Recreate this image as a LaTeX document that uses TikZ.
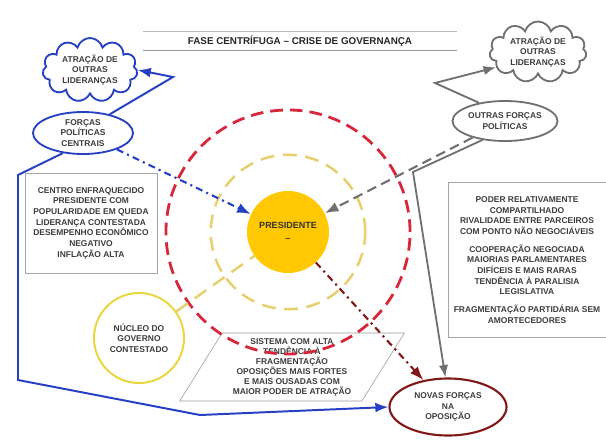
\documentclass[tikz,border=0pt]{standalone}
\usepackage{fontspec}
\setmainfont{Liberation Sans}
\usetikzlibrary{shapes.geometric,shapes.symbols,arrows.meta}
\definecolor{azul}{RGB}{38,64,196}
\definecolor{cinza}{RGB}{112,112,112}
\definecolor{vermelho}{RGB}{214,40,58}
\definecolor{vinho}{RGB}{128,24,24}
\definecolor{ouro}{RGB}{255,200,0}
\definecolor{palha}{RGB}{230,208,112}
\definecolor{amarelo}{RGB}{232,214,60}
\definecolor{texto}{RGB}{60,60,60}

\begin{document}
\begin{tikzpicture}[
                x=0.025cm, y=-0.025cm,
                every node/.style={font=\fontsize{6}{7.6}\selectfont\bfseries, text=texto, align=center, inner sep=0pt},
                titulo/.style={font=\fontsize{7}{8}\selectfont\bfseries, text=black!85, minimum width=7.85cm, minimum height=0.45cm},
                caixa/.style={rectangle, draw=gray!70, thin},
                nuvemAzul/.style={cloud, cloud puffs=11, cloud ignores aspect, draw=azul, line width=1.3pt},
                nuvemCinza/.style={cloud, cloud puffs=11, cloud ignores aspect, draw=cinza, line width=1.3pt},
                elipseAzul/.style={ellipse, draw=azul, line width=1.3pt},
                elipseCinza/.style={ellipse, draw=cinza, line width=1.3pt},
                elipseVinho/.style={ellipse, draw=vinho, line width=1.5pt},
                presid/.style={circle, fill=ouro, minimum size=2.05cm, text=black!80, font=\fontsize{6.4}{9}\selectfont\bfseries},
                nucleoGov/.style={circle, draw=amarelo, line width=1.4pt, minimum size=2.25cm},
                sistemaBox/.style={trapezium, trapezium left angle=58, trapezium right angle=122, draw=gray!80, thin,
                    minimum width=5.5cm, minimum height=1.7cm, font=\fontsize{6}{7.1}\selectfont\bfseries},
                anelVermelho/.style={draw=vermelho, line width=2pt, dash pattern=on 9pt off 5pt},
                anelAmarelo/.style={draw=palha, line width=1.8pt, dash pattern=on 10pt off 6pt},
                ligAzul/.style={draw=azul, line width=1.4pt},
                ligCinza/.style={draw=cinza, line width=1.3pt},
                pontoAzul/.style={draw=azul, line width=1.5pt, dash pattern=on 5pt off 3pt on 1.5pt off 3pt},
                pontoVinho/.style={draw=vinho, line width=1.5pt, dash pattern=on 5pt off 3pt on 1.5pt off 3pt},
                tracoCinza/.style={draw=cinza, line width=1.5pt, dash pattern=on 7pt off 4pt}
                ]
                \useasboundingbox (0,0) rectangle (606,443);

                % titulo
                \node[titulo] (titulo) at (300,41) {FASE CENTRÍFUGA – CRISE DE GOVERNANÇA};
                \draw[gray!55] (titulo.north west) -- (titulo.north east);
                \draw[gray!80] (titulo.south west) -- (titulo.south east);

                % centro
                \node[presid] (presidente) at (288,232) {PRESIDENTE\\–};

                % lado esquerdo
                \node[nuvemAzul, minimum width=2.375cm, minimum height=1.6cm] (atracaoEsq) at (90,70) {ATRAÇÃO DE\\OUTRAS\\LIDERANÇAS};
                \node[elipseAzul, minimum width=2.5cm, minimum height=1.05cm] (forcasCentrais) at (83,133) {FORÇAS\\POLÍTICAS\\CENTRAIS};
                \node[caixa, minimum width=3.3cm, minimum height=2.5cm] (crise) at (91,223)
                    {CENTRO ENFRAQUECIDO\\PRESIDENTE COM\\POPULARIDADE EM QUEDA\\LIDERANÇA CONTESTADA\\DESEMPENHO ECONÔMICO\\NEGATIVO\\INFLAÇÃO ALTA};
                \node[nucleoGov] (nucleo) at (139,338) {NÚCLEO DO\\GOVERNO\\CONTESTADO};

                % lado direito
                \node[nuvemCinza, minimum width=2.425cm, minimum height=1.525cm] (atracaoDir) at (538,52) {ATRAÇÃO DE\\OUTRAS\\LIDERANÇAS};
                \node[elipseCinza, minimum width=2.625cm, minimum height=1cm] (outrasForcas) at (505,121) {OUTRAS FORÇAS\\POLÍTICAS};
                \node[caixa, minimum width=3.95cm, minimum height=3.875cm] (poder) at (527,260)
                    {PODER RELATIVAMENTE\\COMPARTILHADO\\RIVALIDADE ENTRE PARCEIROS\\COM PONTO NÃO NEGOCIÁVEIS\\[5pt]
                     COOPERAÇÃO NEGOCIADA\\MAIORIAS PARLAMENTARES\\DIFÍCEIS E MAIS RARAS\\TENDÊNCIA À PARALISIA\\LEGISLATIVA\\[5pt]
                     FRAGMENTAÇÃO PARTIDÁRIA SEM\\AMORTECEDORES};

                % baixo
                \node[sistemaBox] (sistema) at (292,367)
                    {SISTEMA COM ALTA\\TENDÊNCIA À\\FRAGMENTAÇÃO\\OPOSIÇÕES MAIS FORTES\\E MAIS OUSADAS COM\\MAIOR PODER DE ATRAÇÃO};
                \node[elipseVinho, minimum width=2.925cm, minimum height=1.425cm] (novasForcas) at (448,407) {NOVAS FORÇAS\\NA\\OPOSIÇÃO};

                % aneis
                \draw[anelAmarelo] (presidente.center) circle[radius=1.93cm];
                \draw[anelVermelho] (presidente.center) circle[radius=3.05cm];

                % dobras
                \coordinate (dobraAzul) at (173,77);
                \coordinate (cantoSup) at (18,175);
                \coordinate (cantoInf) at (18,380);
                \coordinate (baseAzul) at (200,415);
                \coordinate (dobraCinza) at (435,83);
                \coordinate (quebraCinza) at (413,172);

                % ligacoes
                \draw[ligAzul, -{Latex}] (forcasCentrais.35) -- (dobraAzul) -- (atracaoEsq.east);
                \draw[ligAzul, -{Latex}] (forcasCentrais.225) -- (cantoSup) -- (cantoInf) -- (baseAzul) -- (novasForcas.west);
                \draw[pontoAzul, -{Latex}] (forcasCentrais) -- (presidente);
                \draw[ligCinza, -{Latex}] (outrasForcas.145) -- (dobraCinza) -- (atracaoDir.200);
                \draw[ligCinza, -{Latex}] (outrasForcas.220) -- (quebraCinza) -- (novasForcas.95);
                \draw[tracoCinza, -{Latex}] (outrasForcas) -- (presidente);
                \draw[anelAmarelo] (nucleo) -- (presidente);
                \draw[pontoVinho, -{Latex}] (presidente) -- (novasForcas);
            \end{tikzpicture}
\end{document}
